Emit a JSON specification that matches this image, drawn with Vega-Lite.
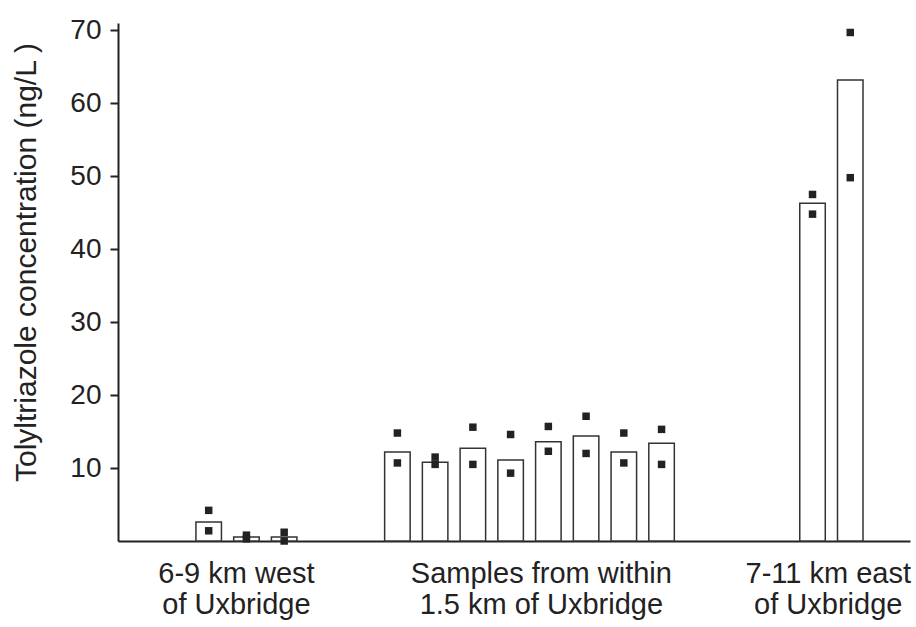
{
  "$schema": "https://vega.github.io/schema/vega-lite/v6.json",
  "width": 792,
  "height": 518,
  "autosize": "none",
  "padding": {"left": 118, "top": 23, "right": 6, "bottom": 86},
  "background": "white",
  "config": {
    "view": {"stroke": null},
    "font": "Liberation Sans",
    "axis": {"labelFont": "Liberation Sans", "titleFont": "Liberation Sans", "labelColor": "#222", "titleColor": "#222", "grid": false, "domainColor": "#222", "tickColor": "#222"}
  },
  "datasets": {
    "bars": [
      {"sample": "W1", "location": "6-9 km west of Uxbridge", "conc": 2.6},
      {"sample": "W2", "location": "6-9 km west of Uxbridge", "conc": 0.55},
      {"sample": "W3", "location": "6-9 km west of Uxbridge", "conc": 0.55},
      {"sample": "U1", "location": "within 1.5 km of Uxbridge", "conc": 12.2},
      {"sample": "U2", "location": "within 1.5 km of Uxbridge", "conc": 10.8},
      {"sample": "U3", "location": "within 1.5 km of Uxbridge", "conc": 12.7},
      {"sample": "U4", "location": "within 1.5 km of Uxbridge", "conc": 11.1},
      {"sample": "U5", "location": "within 1.5 km of Uxbridge", "conc": 13.6},
      {"sample": "U6", "location": "within 1.5 km of Uxbridge", "conc": 14.4},
      {"sample": "U7", "location": "within 1.5 km of Uxbridge", "conc": 12.2},
      {"sample": "U8", "location": "within 1.5 km of Uxbridge", "conc": 13.4},
      {"sample": "E1", "location": "7-11 km east of Uxbridge", "conc": 46.3},
      {"sample": "E2", "location": "7-11 km east of Uxbridge", "conc": 63.2}
    ],
    "points": [
      {"sample": "W1", "conc": 4.2}, {"sample": "W1", "conc": 1.4},
      {"sample": "W2", "conc": 0.8}, {"sample": "W2", "conc": 0.3},
      {"sample": "W3", "conc": 1.2}, {"sample": "W3", "conc": 0.0},
      {"sample": "U1", "conc": 14.8}, {"sample": "U1", "conc": 10.7},
      {"sample": "U2", "conc": 11.5}, {"sample": "U2", "conc": 10.5},
      {"sample": "U3", "conc": 15.6}, {"sample": "U3", "conc": 10.5},
      {"sample": "U4", "conc": 14.6}, {"sample": "U4", "conc": 9.3},
      {"sample": "U5", "conc": 15.7}, {"sample": "U5", "conc": 12.3},
      {"sample": "U6", "conc": 17.1}, {"sample": "U6", "conc": 12.0},
      {"sample": "U7", "conc": 14.8}, {"sample": "U7", "conc": 10.7},
      {"sample": "U8", "conc": 15.3}, {"sample": "U8", "conc": 10.5},
      {"sample": "E1", "conc": 47.5}, {"sample": "E1", "conc": 44.8},
      {"sample": "E2", "conc": 69.7}, {"sample": "E2", "conc": 49.8}
    ]
  },
  "encoding": {
    "x": {
      "field": "sample",
      "type": "nominal",
      "scale": {
        "domain": ["p1", "p2", "W1", "W2", "W3", "g1", "g2", "U1", "U2", "U3", "U4", "U5", "U6", "U7", "U8", "g3", "g4", "g5", "E1", "E2", "p3"],
        "paddingInner": 0.324,
        "paddingOuter": 0.155,
        "align": 0.21
      },
      "axis": {
        "title": null,
        "ticks": false,
        "tickSize": 0,
        "domainWidth": 2,
        "labelAngle": 0,
        "labelFontSize": 29,
        "labelPadding": 18,
        "labelLineHeight": 31,
        "labelBaseline": "top",
        "labelAlign": "center",
        "labelOverlap": false,
        "labelBound": false,
        "labelLimit": 0,
        "labelExpr": "datum.value == 'W2' ? ['6-9 km west', 'of Uxbridge'] : datum.value == 'U5' ? ['Samples from within', '1.5 km of Uxbridge'] : datum.value == 'E2' ? ['7-11 km east', 'of Uxbridge'] : ''",
        "labelOffset": {"condition": [
          {"test": "datum.value == 'W2'", "value": -10},
          {"test": "datum.value == 'U5'", "value": -7},
          {"test": "datum.value == 'E2'", "value": -22}
        ], "value": 0}
      }
    },
    "y": {
      "field": "conc",
      "type": "quantitative",
      "scale": {"domain": [0, 71], "nice": false, "zero": true},
      "axis": {
        "title": "Tolyltriazole concentration (ng/L )",
        "values": [10, 20, 30, 40, 50, 60, 70],
        "tickSize": 8,
        "tickWidth": 2,
        "domainWidth": 2,
        "labelFontSize": 28,
        "labelPadding": 9,
        "titleFontSize": 30,
        "titleFontWeight": "normal",
        "titleAngle": -90,
        "titleAlign": "center",
        "titleBaseline": "alphabetic",
        "titleX": -83,
        "titleY": 239
      }
    }
  },
  "layer": [
    {
      "data": {"name": "bars"},
      "mark": {"type": "bar", "fill": "white", "stroke": "#333", "strokeWidth": 1.5}
    },
    {
      "data": {"name": "points"},
      "mark": {"type": "point", "shape": "square", "filled": true, "size": 56, "color": "#222", "opacity": 1}
    }
  ]
}
